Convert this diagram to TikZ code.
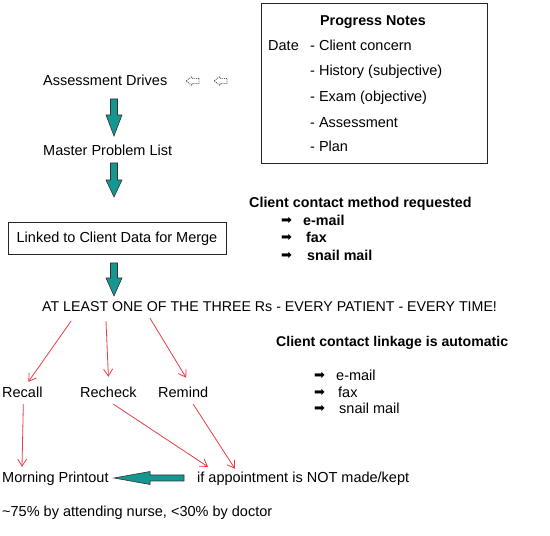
\documentclass[tikz,border=0pt]{standalone}
\usepackage{fontspec}
\setmainfont{Liberation Sans}
\newfontfamily\dejavu{DejaVu Sans}
\usetikzlibrary{arrows.meta,calc}
\definecolor{tealfill}{RGB}{22,150,145}
\definecolor{redline}{RGB}{232,60,70}
\newcommand\blockdownarrow[4]{\draw[blockarrow] (#1-3.5,#2) -- (#1+3.5,#2) -- (#1+3.5,#3) -- (#1+8,#3) -- (#1,#4) -- (#1-8,#3) -- (#1-3.5,#3) -- cycle;}
\newcommand\hollowleft[2]{\draw[hollow] (#1+13,#2+2.5) -- (#1+6,#2+2.5) -- (#1+6,#2+4.5) -- (#1,#2) -- (#1+6,#2-4.5) -- (#1+6,#2-2.5) -- (#1+13,#2-2.5) -- cycle;}
\begin{document}
\begin{tikzpicture}[x=1pt,y=1pt,
 txt/.style={inner sep=0pt,anchor=west,text height=10pt,text depth=0pt,font=\fontsize{14.5}{17}\selectfont},
 btxt/.style={txt,font=\fontsize{14.3}{17}\selectfont\bfseries},
 redarrow/.style={draw=redline,line width=0.8pt,-{Straight Barb[length=7pt,width=9pt]}},
 blockarrow/.style={fill=tealfill,draw=black!80,line width=0.6pt},
 hollow/.style={draw=black!65,line width=0.9pt,fill=white,densely dotted},
 bul/.style={inner sep=0pt,anchor=west,font=\dejavu\fontsize{13}{15}\selectfont},
 frame/.style={draw=black!85,line width=0.8pt,inner sep=0pt}]
\useasboundingbox (0,0) rectangle (550,536);
\fill[white] (0,0) rectangle (550,536);

% left column
\node[txt] (ad) at (43,455) {Assessment Drives};
\hollowleft{186}{455}
\hollowleft{214}{455}
\blockdownarrow{114}{437}{421}{400}
\node[txt] (mpl) at (43,385) {Master Problem List};
\blockdownarrow{114}{373}{356}{339}
\node[frame,minimum width=218,minimum height=32,text height=10pt,text depth=0pt,font=\fontsize{14.5}{17}\selectfont] (link) at (117,298) {Linked to Client Data for Merge};
\blockdownarrow{114}{273}{258}{240}

% progress notes box
\node[frame,minimum width=226,minimum height=160] (pn) at (374,453) {};
\node[btxt,anchor=center] (pnt) at (373,515) {Progress Notes};
\node[txt] (date) at (268,490) {Date};
\node[txt] (p1) at (310,490) {- Client concern};
\node[txt] (p2) at (310,465) {- History (subjective)};
\node[txt] (p3) at (310,439) {- Exam (objective)};
\node[txt] (p4) at (310,413) {- Assessment};
\node[txt] (p5) at (310,389) {- Plan};

% client contact method
\node[btxt] (ccm) at (249,333) {Client contact method requested};
\node[bul] (b1) at (281,315) {➡};
\node[btxt] (c1) at (303,315) {e-mail};
\node[bul] (b2) at (281,298) {➡};
\node[btxt] (c2) at (306,298) {fax};
\node[bul] (b3) at (281,280) {➡};
\node[btxt] (c3) at (307,280) {snail mail};

% three Rs
\node[txt,font=\fontsize{14.2}{17}\selectfont] (three) at (42,229) {AT LEAST ONE OF THE THREE Rs - EVERY PATIENT - EVERY TIME!};
\node[txt] (recall) at (2,143) {Recall};
\node[txt] (recheck) at (80,143) {Recheck};
\node[txt] (remind) at (158,143) {Remind};

\draw[redarrow] ([shift={(29,-9)}]three.south west) -- ([shift={(6,6)}]recall.north);
\draw[redarrow] ([shift={(64,-9)}]three.south west) -- ([shift={(0,11)}]recheck.north);
\draw[redarrow] ([shift={(108,-6)}]three.south west) -- ([shift={(3,10)}]remind.north);

% linkage
\node[btxt,font=\fontsize{14.1}{17}\selectfont\bfseries] (link2) at (276,194) {Client contact linkage is automatic};
\node[bul] (d1) at (314,160) {➡};
\node[txt] (e1) at (336,160) {e-mail};
\node[bul] (d2) at (314,143) {➡};
\node[txt] (e2) at (338,143) {fax};
\node[bul] (d3) at (314,127) {➡};
\node[txt] (e3) at (339,127) {snail mail};

% bottom
\node[txt] (morning) at (2,58) {Morning Printout};
\node[txt] (appt) at (197,58) {if appointment is NOT made/kept};
\node[txt] (pct) at (2,24) {\textasciitilde75\% by attending nurse, <30\% by doctor};

\draw[redarrow] ([shift={(1,-6)}]recall.south) -- ([shift={(20,6)}]morning.north west);
\draw[redarrow] ([shift={(5,-6)}]recheck.south) -- ([shift={(11,6)}]appt.north west);
\draw[redarrow] ([shift={(10,-6)}]remind.south) -- ([shift={(38,4)}]appt.north west);

\draw[blockarrow] (184,61) -- (150,61) -- (150,64.5) -- (114,58) -- (150,51.5) -- (150,55) -- (184,55) -- cycle;
\end{tikzpicture}
\end{document}
